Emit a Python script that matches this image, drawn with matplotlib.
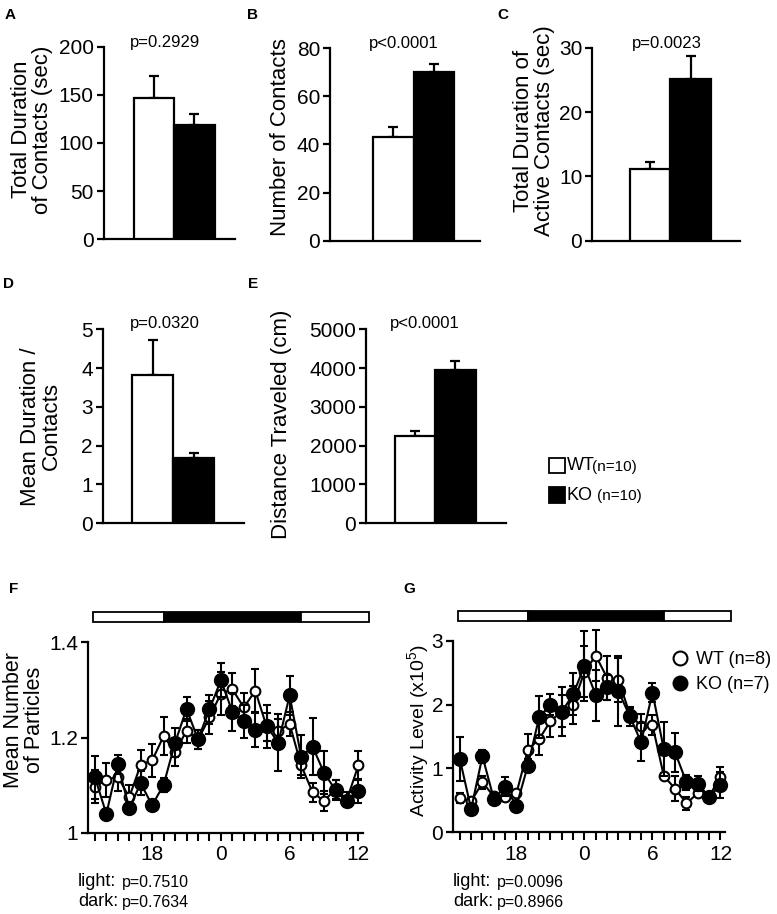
import matplotlib
matplotlib.use('Agg')
import matplotlib.pyplot as plt
from matplotlib.patches import Rectangle
from matplotlib.lines import Line2D
from matplotlib.transforms import blended_transform_factory

plt.rcParams['font.family'] = ['Liberation Sans', 'DejaVu Sans']
plt.rcParams['mathtext.default'] = 'regular'

W, H = 777, 914

# ---- bar panels (WT, KO) ----
groups = ['WT', 'KO']
dur_mean = [146.7, 118.3]
dur_err = [23.0, 11.8]
num_mean = [43.3, 70.0]
num_err = [3.8, 3.3]
act_mean = [11.2, 25.1]
act_err = [1.0, 3.6]
mdur_mean = [3.83, 1.69]
mdur_err = [0.89, 0.12]
dist_mean = [2259, 3952]
dist_err = [130, 232]

# ---- 24 h time courses ----
hours = [13, 14, 15, 16, 17, 18, 19, 20, 21, 22, 23, 24,
         25, 26, 27, 28, 29, 30, 31, 32, 33, 34, 35, 36]
hour_ticks = [18, 24, 30, 36]
hour_labels = ['18', '0', '6', '12']
light_dark = [(12.8, 19, 'white'), (19, 31, 'black'), (31, 36.9, 'white')]

part_wt = [1.097, 1.111, 1.118, 1.075, 1.143, 1.152, 1.203, 1.170, 1.214, 1.195, 1.242, 1.292,
           1.301, 1.263, 1.298, 1.222, 1.214, 1.228, 1.142, 1.085, 1.067, 1.092, 1.070, 1.142]
part_wt_err = [0.035, 0.035, 0.030, 0.025, 0.030, 0.035, 0.040, 0.030, 0.025, 0.020, 0.035, 0.045,
               0.035, 0.030, 0.045, 0.030, 0.025, 0.025, 0.020, 0.020, 0.020, 0.020, 0.015, 0.030]
part_ko = [1.117, 1.040, 1.144, 1.052, 1.104, 1.058, 1.101, 1.189, 1.260, 1.196, 1.259, 1.320,
           1.254, 1.234, 1.216, 1.224, 1.189, 1.288, 1.160, 1.181, 1.126, 1.090, 1.066, 1.088]
part_ko_err = [0.045, 0.008, 0.020, 0.010, 0.025, 0.008, 0.015, 0.030, 0.025, 0.020, 0.030, 0.035,
               0.040, 0.035, 0.035, 0.045, 0.060, 0.040, 0.045, 0.060, 0.045, 0.020, 0.010, 0.025]

act_wt = [0.53, 0.48, 0.78, 0.56, 0.55, 0.61, 1.29, 1.46, 1.74, 1.90, 2.00, 2.52,
          2.77, 2.42, 2.39, 1.85, 1.66, 1.68, 0.88, 0.68, 0.45, 0.61, 0.56, 0.87]
act_wt_err = [0.08, 0.06, 0.10, 0.06, 0.06, 0.05, 0.25, 0.25, 0.25, 0.25, 0.30, 0.40,
              0.40, 0.35, 0.35, 0.10, 0.20, 0.15, 0.05, 0.20, 0.10, 0.05, 0.05, 0.15]
act_ko = [1.15, 0.36, 1.19, 0.52, 0.71, 0.41, 1.04, 1.80, 2.00, 1.89, 2.16, 2.61,
          2.15, 2.27, 2.21, 1.82, 1.41, 2.19, 1.30, 1.25, 0.78, 0.76, 0.55, 0.74]
act_ko_err = [0.35, 0.05, 0.10, 0.08, 0.15, 0.05, 0.10, 0.33, 0.17, 0.38, 0.33, 0.55,
              0.40, 0.20, 0.55, 0.15, 0.30, 0.15, 0.42, 0.30, 0.12, 0.12, 0.05, 0.20]

fig = plt.figure(figsize=(W / 100, H / 100), dpi=100)


def px_axes(x0, x1, ytop, ybot):
    return fig.add_axes([x0 / W, 1 - ybot / H, (x1 - x0) / W, (ybot - ytop) / H])


def style(ax):
    for s in ['top', 'right']:
        ax.spines[s].set_visible(False)
    for s in ['left', 'bottom']:
        ax.spines[s].set_linewidth(1.6)
    ax.tick_params(axis='y', direction='out', length=5, width=1.6, labelsize=15, pad=2)


def bar_panel(rect, means, errs, xlim, yticks, ylabel, lab_xy, ptext, p_x, p_y):
    ax = px_axes(*rect)
    style(ax)
    ax.bar([0, 1], means, width=1, color=['white', 'black'], edgecolor='black',
           linewidth=1.6, zorder=3)
    ax.errorbar([0, 1], means, yerr=[[0, 0], errs], fmt='none', ecolor='black',
                elinewidth=1.6, capsize=3.5, capthick=1.6, zorder=2)
    ax.set_xlim(*xlim)
    ax.set_ylim(yticks[0], yticks[-1])
    ax.set_yticks(yticks)
    ax.set_xticks([])
    ax.set_ylabel(ylabel, fontsize=16, ha='center', va='center', linespacing=1.0)
    ax.yaxis.set_label_coords(*lab_xy)
    tr = blended_transform_factory(ax.transData, ax.transAxes)
    ax.text(p_x, p_y, ptext, transform=tr, ha='center', va='center', fontsize=12)
    return ax


bar_panel((103.5, 235, 46.7, 239.3), dur_mean, dur_err, (-1.24, 2.0), [0, 50, 100, 150, 200],
          'Total Duration\nof Contacts (sec)', (-0.54, 0.57), 'p=0.2929', 0.28, 1.02)
bar_panel((330, 480, 48.3, 240.7), num_mean, num_err, (-1.57, 2.14), [0, 20, 40, 60, 80],
          'Number of Contacts', (-0.33, 0.54), 'p<0.0001', 0.26, 1.026)
bar_panel((592, 740, 47.7, 240.7), act_mean, act_err, (-1.43, 2.22), [0, 10, 20, 30],
          'Total Duration of\nActive Contacts (sec)', (-0.39, 0.57), 'p=0.0023', 0.42, 1.023)
bar_panel((102.5, 244, 329.3, 523.3), mdur_mean, mdur_err, (-1.22, 2.23), [0, 1, 2, 3, 4, 5],
          'Mean Duration /\nContacts', (-0.435, 0.50), 'p=0.0320', 0.30, 1.03)
bar_panel((366, 506, 329.3, 523.3), dist_mean, dist_err, (-1.21, 2.25),
          [0, 1000, 2000, 3000, 4000, 5000],
          'Distance Traveled (cm)', (-0.607, 0.51), 'p<0.0001', 0.25, 1.031)


# legend of bar panels
def fig_rect(x0, y0, x1, y1, color):
    fig.add_artist(Rectangle((x0 / W, 1 - y1 / H), (x1 - x0) / W, (y1 - y0) / H,
                             facecolor=color, edgecolor='black', linewidth=1.3,
                             transform=fig.transFigure))


def ftext(x, y, s, **kw):
    fig.text(x / W, 1 - y / H, s, **kw)


fig_rect(549, 458, 565, 473, 'white')
fig_rect(549, 487, 565, 503, 'black')
ftext(567, 466, 'WT', fontsize=13, va='center')
ftext(592, 467, '(n=10)', fontsize=11, va='center')
ftext(567, 495, 'KO', fontsize=13, va='center')
ftext(597, 496, '(n=10)', fontsize=11, va='center')


def time_panel(rect, bar_y, wt, wt_err, ko, ko_err, ylim, yticks, yticklabels, ylabel, lab_xy,
               lab_size):
    ax = px_axes(*rect)
    style(ax)
    ax.errorbar(hours, wt, yerr=wt_err, fmt='-o', color='black', mfc='white', mec='black',
                ms=7, mew=1.5, lw=1.5, elinewidth=1.5, capsize=3, capthick=1.5,
                zorder=3, clip_on=False)
    ax.errorbar(hours, ko, yerr=ko_err, fmt='-o', color='black', mfc='black', mec='black',
                ms=9.5, mew=1.5, lw=1.5, elinewidth=1.5, capsize=3, capthick=1.5,
                zorder=4, clip_on=False)
    ax.set_xlim(12.4, 36.4)
    ax.set_ylim(*ylim)
    ax.set_yticks(yticks)
    ax.set_yticklabels(yticklabels)
    ax.set_xticks(hours, minor=True)
    ax.set_xticks(hour_ticks)
    ax.set_xticklabels(hour_labels)
    ax.tick_params(axis='x', which='both', direction='out', length=6, width=1.5,
                   labelsize=15, pad=3)
    ax.set_ylabel(ylabel, fontsize=lab_size, ha='center', va='center', linespacing=1.0)
    ax.yaxis.set_label_coords(*lab_xy)
    # light/dark bar
    bx = px_axes(rect[0], rect[1], bar_y[0], bar_y[1])
    bx.set_xlim(12.4, 36.4)
    bx.set_ylim(0, 1)
    bx.axis('off')
    for start, end, col in light_dark:
        bx.add_patch(Rectangle((start, 0), end - start, 1, facecolor=col, edgecolor='black',
                               linewidth=1.3, clip_on=False))
    return ax


axF = time_panel((88, 363, 642, 833), (612, 622), part_wt, part_wt_err, part_ko, part_ko_err,
                 (1, 1.4), [1, 1.2, 1.4], ['1', '1.2', '1.4'],
                 'Mean Number\nof Particles', (-0.233, 0.59), 15.5)
axG = time_panel((453, 725, 641, 832), (611, 621), act_wt, act_wt_err, act_ko, act_ko_err,
                 (0, 3), [0, 1, 2, 3], ['0', '1', '2', '3'],
                 'Activity Level (x10$^{5}$)', (-0.128, 0.53), 14)

handles = [Line2D([], [], ls='none', marker='o', ms=10, mfc='white', mec='black', mew=1.5),
           Line2D([], [], ls='none', marker='o', ms=10, mfc='black', mec='black', mew=1.5)]
axG.legend(handles, ['WT (n=8)', 'KO (n=7)'], loc='upper left', bbox_to_anchor=(0.78, 0.985),
           frameon=False, fontsize=13, handlelength=0.8, handletextpad=0.5,
           labelspacing=0.45, borderaxespad=0)

# p values under time panels
for x0, lp, dp in [(78, 'p=0.7510', 'p=0.7634'), (453, 'p=0.0096', 'p=0.8966')]:
    ftext(x0, 881, 'light:', fontsize=13, va='center')
    ftext(x0 + 44, 882, lp, fontsize=11.5, va='center')
    ftext(x0, 902, 'dark:', fontsize=13, va='center')
    ftext(x0 + 44, 903, dp, fontsize=11.5, va='center')

# panel letters
for x, y, s in [(10, 15, 'A'), (252, 15, 'B'), (503, 15, 'C'), (9, 284, 'D'), (253, 284, 'E'),
                (14, 589, 'F'), (409, 589, 'G')]:
    ftext(x, y, s, fontsize=11, fontweight='bold', ha='center', va='center')

fig.savefig('out.png', dpi=100)
